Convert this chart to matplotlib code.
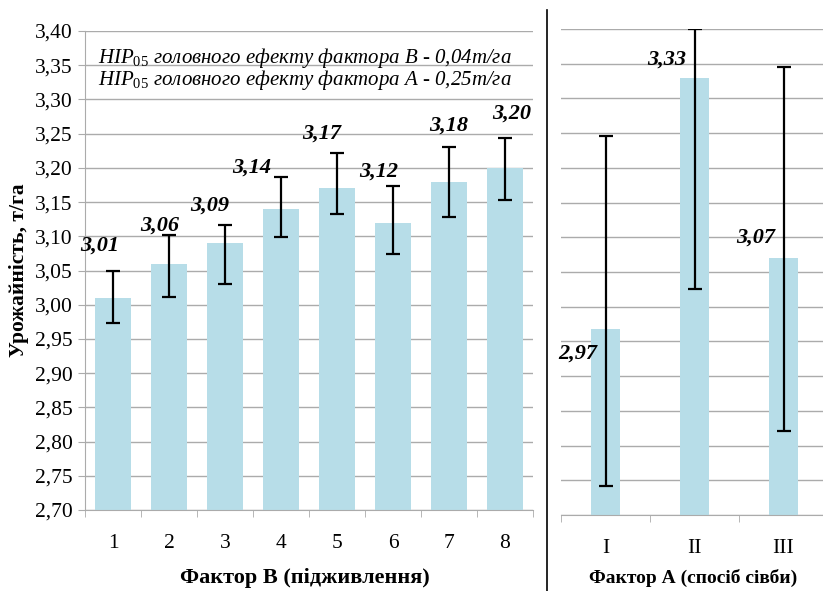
import matplotlib
matplotlib.use("Agg")
import matplotlib.pyplot as plt
import numpy as np

plt.rcParams['font.family'] = ['Liberation Serif', 'DejaVu Serif']
plt.rcParams['mathtext.fontset'] = 'custom'
plt.rcParams['mathtext.rm'] = 'Liberation Serif'
plt.rcParams['mathtext.it'] = 'Liberation Serif:italic'

# factor B (feeding)
b_cats = ['1', '2', '3', '4', '5', '6', '7', '8']
b_vals = [3.01, 3.06, 3.09, 3.14, 3.17, 3.12, 3.18, 3.20]
b_low = [2.974, 3.012, 3.031, 3.099, 3.132, 3.074, 3.128, 3.153]
b_high = [3.049, 3.102, 3.116, 3.186, 3.222, 3.173, 3.230, 3.243]
b_labels = ['3,01', '3,06', '3,09', '3,14', '3,17', '3,12', '3,18', '3,20']
b_lab_dx = [-0.23, -0.16, -0.27, -0.52, -0.27, -0.25, 0.0, 0.12]
b_lab_y = [3.087, 3.115, 3.145, 3.200, 3.250, 3.195, 3.262, 3.280]

# factor A (sowing method)
a_cats = ['I', 'II', 'III']
a_vals = [2.968, 3.33, 3.07]
a_low = [2.742, 3.026, 2.821]
a_high = [3.246, 3.40, 3.345]
a_labels = ['2,97', '3,33', '3,07']
a_lab_y = [2.933, 3.356, 3.099]

bar_col = '#b7dde8'
grid_col = '#ababab'
ymin, ymax = 2.70, 3.40
yticks = np.round(np.arange(ymin, ymax + 0.001, 0.05), 2)

fig = plt.figure(figsize=(8.23, 5.91), dpi=100)
ax1 = fig.add_axes([85/823, 81/591, 448/823, 479/591])
ax2 = fig.add_axes([561/823, 76/591, 267/823, 486/591])

# left panel
x = np.arange(len(b_vals))
ax1.bar(x, b_vals, width=0.64, color=bar_col, zorder=2)
yerr = [np.array(b_vals) - np.array(b_low), np.array(b_high) - np.array(b_vals)]
ax1.errorbar(x, b_vals, yerr=yerr, fmt='none', ecolor='black', elinewidth=1.6,
             capsize=5, capthick=1.6, zorder=3)
for i in range(len(b_vals)):
    ax1.text(x[i] + b_lab_dx[i], b_lab_y[i], b_labels[i], ha='center', va='center',
             fontsize=16, fontweight='bold', style='italic')
ax1.set_xlim(-0.5, len(b_vals) - 0.5)
ax1.set_ylim(ymin, ymax)
ax1.set_yticks(yticks)
ax1.set_yticklabels([('%.2f' % v).replace('.', ',') for v in yticks], fontsize=15.5)
ax1.set_xticks(x)
ax1.set_xticklabels(b_cats, fontsize=15.5)
ax1.set_xticks(np.arange(-0.5, len(b_vals)), minor=True)
ax1.tick_params(axis='x', which='major', length=0, pad=17)
ax1.tick_params(axis='x', which='minor', length=5, color=grid_col)
ax1.tick_params(axis='y', length=5, color=grid_col, pad=4)
ax1.yaxis.grid(True, color=grid_col, lw=1, zorder=0)
for s in ['top', 'right']:
    ax1.spines[s].set_visible(False)
ax1.spines['left'].set_color(grid_col)
ax1.spines['bottom'].set_color(grid_col)
ax1.set_ylabel('Урожайність, т/га', fontsize=15.5, fontweight='bold', labelpad=4)

ax1.text(0.03, 0.944, r'$\mathit{HIP}_{\mathit{05}}$ головного ефекту фактора В - 0,04т/га',
         transform=ax1.transAxes, fontsize=15, style='italic', va='center')
ax1.text(0.03, 0.898, r'$\mathit{HIP}_{\mathit{05}}$ головного ефекту фактора А - 0,25т/га',
         transform=ax1.transAxes, fontsize=15, style='italic', va='center')

# right panel
xa = np.arange(len(a_vals))
ax2.bar(xa, a_vals, width=0.33, color=bar_col, zorder=2)
yerr2 = [np.array(a_vals) - np.array(a_low), np.array(a_high) - np.array(a_vals)]
ax2.errorbar(xa, a_vals, yerr=yerr2, fmt='none', ecolor='black', elinewidth=1.6,
             capsize=5, capthick=1.6, zorder=3)
for i in range(len(a_vals)):
    ax2.text(xa[i] - 0.31, a_lab_y[i], a_labels[i], ha='center', va='center',
             fontsize=16, fontweight='bold', style='italic')
ax2.set_xlim(-0.5, len(a_vals) - 0.5)
ax2.set_ylim(ymin, ymax)
ax2.set_yticks(yticks)
ax2.set_yticklabels([])
ax2.tick_params(axis='y', length=0)
ax2.set_xticks(xa)
ax2.set_xticklabels(a_cats, fontsize=15.5)
ax2.set_xticks(np.arange(-0.5, len(a_vals)), minor=True)
ax2.tick_params(axis='x', which='major', length=0, pad=17)
ax2.tick_params(axis='x', which='minor', length=5, color=grid_col)
ax2.yaxis.grid(True, color=grid_col, lw=1, zorder=0)
for s in ['top', 'right', 'left']:
    ax2.spines[s].set_visible(False)
ax2.spines['bottom'].set_color(grid_col)

# axis titles under both panels
fig.text(305/823, 1 - 578/591, 'Фактор В (підживлення)', fontsize=16,
         fontweight='bold', ha='center', va='center')
fig.text(693/823, 1 - 578/591, 'Фактор А (спосіб сівби)', fontsize=14,
         fontweight='bold', ha='center', va='center')

# separator line between the panels
fig.add_artist(plt.Line2D([547/823, 547/823], [0, 1 - 10/591], color='black', lw=1.2,
                          transform=fig.transFigure))

fig.savefig('out.png', dpi=100)
